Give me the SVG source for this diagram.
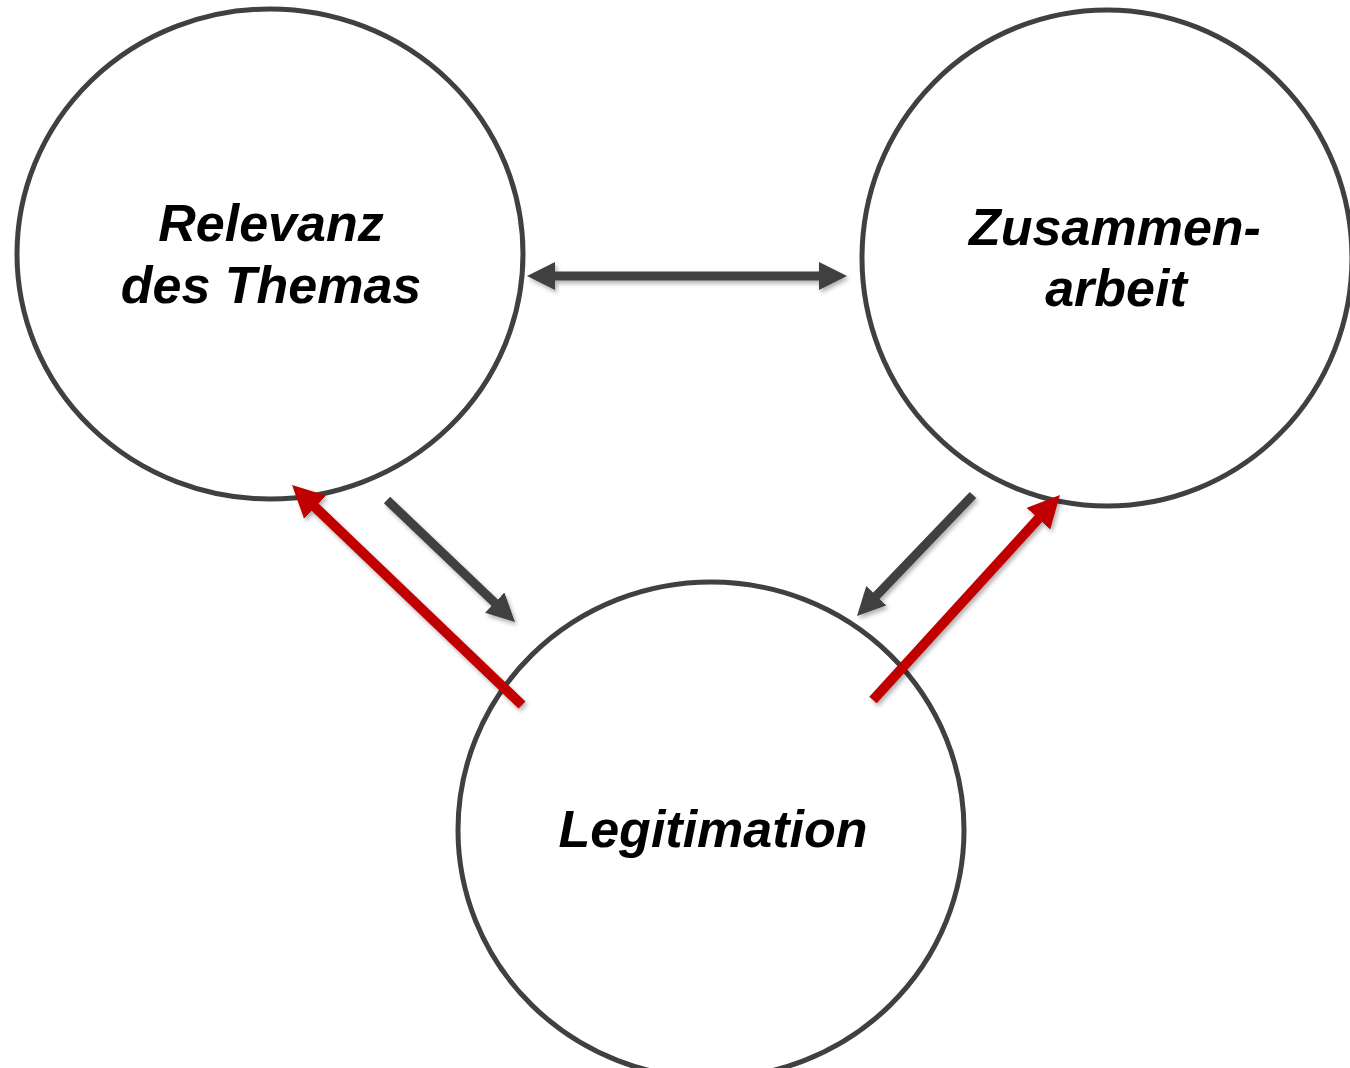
<svg xmlns="http://www.w3.org/2000/svg" width="1350" height="1068" viewBox="0 0 1350 1068">
  <style>
    .node { fill: #ffffff; stroke: #404040; stroke-width: 5; }
    .label { font-family: "Liberation Sans", Arial, sans-serif; font-weight: bold; font-style: italic; font-size: 52px; fill: #000000; text-anchor: middle; }
    .dark { stroke: #404040; stroke-width: 9; fill: none; }
    .red { stroke: #C00000; stroke-width: 10; fill: none; }
  </style>
  <defs>
    <filter id="shadow" filterUnits="userSpaceOnUse" x="0" y="0" width="1350" height="1068">
      <feDropShadow dx="2" dy="3" stdDeviation="2" flood-color="#000000" flood-opacity="0.3"/>
    </filter>
    <marker id="headDark" viewBox="0 0 28 28" refX="12" refY="14" markerWidth="28" markerHeight="28" markerUnits="userSpaceOnUse" orient="auto-start-reverse">
      <path d="M0,0 L28,14 L0,28 z" fill="#404040"/>
    </marker>
    <marker id="headRed" viewBox="0 0 32 32" refX="15" refY="16" markerWidth="32" markerHeight="32" markerUnits="userSpaceOnUse" orient="auto">
      <path d="M0,0 L32,16 L0,32 z" fill="#C00000"/>
    </marker>
  </defs>
  <rect width="1350" height="1068" fill="#ffffff"/>
  <g id="node-relevanz">
    <ellipse class="node" cx="270" cy="254" rx="253" ry="245"/>
    <text class="label" x="271" y="241">Relevanz</text>
    <text class="label" x="271" y="303">des Themas</text>
  </g>
  <g id="node-zusammenarbeit">
    <ellipse class="node" cx="1107" cy="258" rx="245" ry="248"/>
    <text class="label" x="1115" y="245">Zusammen-</text>
    <text class="label" x="1116" y="306">arbeit</text>
  </g>
  <g id="node-legitimation">
    <ellipse class="node" cx="711" cy="830" rx="253" ry="248"/>
    <text class="label" x="713" y="847">Legitimation</text>
  </g>
  <g id="connectors" filter="url(#shadow)">
    <line class="dark" x1="543" y1="276" x2="831" y2="276" marker-start="url(#headDark)" marker-end="url(#headDark)"/>
    <line class="dark" x1="387" y1="500" x2="503.4" y2="610.9" marker-end="url(#headDark)"/>
    <line class="dark" x1="973" y1="495" x2="868.1" y2="604.4" marker-end="url(#headDark)"/>
    <line class="red" x1="522" y1="705" x2="304.3" y2="496.8" marker-end="url(#headRed)"/>
    <line class="red" x1="873" y1="700" x2="1048.5" y2="507.6" marker-end="url(#headRed)"/>
  </g>
</svg>
